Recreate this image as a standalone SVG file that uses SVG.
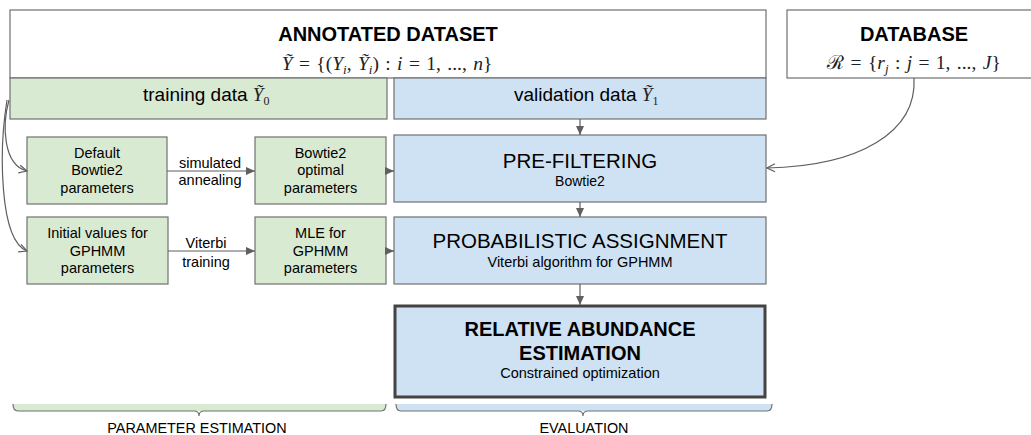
<svg xmlns="http://www.w3.org/2000/svg" width="1031" height="435" viewBox="0 0 1031 435">
<style>
.box{stroke:#707070;stroke-width:1.2}
.w{fill:#ffffff}
.g{fill:#d9ead3}
.b{fill:#cfe2f3}
.t{font-family:"Liberation Sans",Arial,sans-serif;fill:#000}
.m{font-family:"Liberation Serif","DejaVu Serif",serif;fill:#222}
.i{font-style:italic}
.c{text-anchor:middle}
.bold{font-weight:bold}
.con{fill:none;stroke:#5f5f5f;stroke-width:1.2}
</style>
<defs>
<marker id="tri" markerWidth="9" markerHeight="8" refX="9" refY="4" orient="auto" markerUnits="userSpaceOnUse">
<path d="M0,0 L9,4 L0,8 z" fill="#5f5f5f"/>
</marker>
<marker id="open" markerWidth="10" markerHeight="10" refX="9" refY="5" orient="auto" markerUnits="userSpaceOnUse">
<path d="M1,1 L9,5 L1,9" fill="none" stroke="#5f5f5f" stroke-width="1.2"/>
</marker>
</defs>
<rect width="1031" height="435" fill="#ffffff"/>

<g id="annotated">
<rect class="box w" x="10" y="10" width="756" height="68"/>
<text class="t bold c" x="388" y="41" font-size="20">ANNOTATED DATASET</text>
<text class="m c" x="387" y="70" font-size="19.5" word-spacing="1.5"><tspan class="i">Ỹ</tspan> = {(<tspan class="i">Y</tspan><tspan class="i" font-size="13" dy="4">i</tspan><tspan dy="-4">, </tspan><tspan class="i">Ỹ</tspan><tspan class="i" font-size="13" dy="4">i</tspan><tspan dy="-4">) : </tspan><tspan class="i">i</tspan> = 1, ..., <tspan class="i">n</tspan>}</text>
</g>

<g id="database">
<rect class="box w" x="787" y="10" width="260" height="68"/>
<text class="t bold c" x="914" y="41" font-size="20">DATABASE</text>
<text class="m c" x="914" y="69" font-size="19.5" word-spacing="1.5">ℛ = {<tspan class="i">r</tspan><tspan class="i" font-size="13" dy="4">j</tspan><tspan dy="-4"> : </tspan><tspan class="i">j</tspan> = 1, ..., <tspan class="i">J</tspan>}</text>
</g>

<g id="training">
<rect class="box g" x="10" y="78" width="377" height="41"/>
<text class="t" x="143" y="101" font-size="19">training data <tspan class="m i" font-size="19">Ỹ</tspan><tspan class="m" font-size="12" dy="4">0</tspan></text>
</g>

<g id="validation">
<rect class="box b" x="394" y="78" width="372" height="41"/>
<text class="t" x="514" y="101" font-size="19">validation data  <tspan class="m i" font-size="19">Ỹ</tspan><tspan class="m" font-size="12" dy="4">1</tspan></text>
</g>

<g id="default">
<rect class="box g" x="27" y="137" width="140" height="67"/>
<text class="t c" x="97" y="157.5" font-size="14.5">Default</text>
<text class="t c" x="97" y="175" font-size="14.5">Bowtie2</text>
<text class="t c" x="97" y="192.5" font-size="14.5">parameters</text>
</g>

<g id="optimal">
<rect class="box g" x="255" y="137" width="131" height="67"/>
<text class="t c" x="320.5" y="157.5" font-size="14.5">Bowtie2</text>
<text class="t c" x="320.5" y="175" font-size="14.5">optimal</text>
<text class="t c" x="320.5" y="192.5" font-size="14.5">parameters</text>
</g>

<g id="initial">
<rect class="box g" x="27" y="217" width="141" height="67"/>
<text class="t c" x="97.5" y="238" font-size="14.5">Initial values for</text>
<text class="t c" x="97.5" y="255.5" font-size="14.5">GPHMM</text>
<text class="t c" x="97.5" y="273" font-size="14.5">parameters</text>
</g>

<g id="mle">
<rect class="box g" x="255" y="217" width="131" height="67"/>
<text class="t c" x="320.5" y="238" font-size="14.5">MLE for</text>
<text class="t c" x="320.5" y="255.5" font-size="14.5">GPHMM</text>
<text class="t c" x="320.5" y="273" font-size="14.5">parameters</text>
</g>

<g id="prefiltering">
<rect class="box b" x="394" y="135" width="372" height="67"/>
<text class="t c" x="580" y="168" font-size="20.5">PRE-FILTERING</text>
<text class="t c" x="580" y="186" font-size="14">Bowtie2</text>
</g>

<g id="probabilistic">
<rect class="box b" x="394" y="217" width="372" height="67"/>
<text class="t c" x="580" y="248" font-size="20.5">PROBABILISTIC ASSIGNMENT</text>
<text class="t c" x="580" y="267" font-size="14.5">Viterbi algorithm for GPHMM</text>
</g>

<g id="relative">
<rect x="395" y="306" width="370" height="91" fill="#cfe2f3" stroke="#434343" stroke-width="3"/>
<text class="t bold c" x="580" y="336" font-size="20">RELATIVE ABUNDANCE</text>
<text class="t bold c" x="580" y="360" font-size="20">ESTIMATION</text>
<text class="t c" x="580" y="378" font-size="14.5">Constrained optimization</text>
</g>

<g id="param-brace">
<path d="M13,404 Q13,411 18,411 L381,411 Q386,411 386,404 Z" fill="#d9ead3"/>
<path d="M13,404 Q13,411 18,411 L194,411 Q199,411 199,416 Q199,411 204,411 L381,411 Q386,411 386,404" fill="none" stroke="#707070" stroke-width="1.2"/>
<text class="t c" x="197" y="433" font-size="14.4">PARAMETER ESTIMATION</text>
</g>

<g id="eval-brace">
<path d="M396,404 Q396,411 401,411 L767,411 Q772,411 772,404 Z" fill="#cfe2f3"/>
<path d="M396,404 Q396,411 401,411 L578,411 Q583,411 583,416 Q583,411 588,411 L767,411 Q772,411 772,404" fill="none" stroke="#707070" stroke-width="1.2"/>
<text class="t c" x="584" y="433" font-size="14.4">EVALUATION</text>
</g>

<g id="connectors">
<line class="con" x1="167" y1="171" x2="255" y2="171" marker-end="url(#tri)"/>
<text class="t c" x="210" y="167.5" font-size="14.5">simulated</text>
<text class="t c" x="210" y="185" font-size="14.5">annealing</text>
<line class="con" x1="168" y1="251" x2="255" y2="251" marker-end="url(#tri)"/>
<text class="t c" x="206" y="248" font-size="14.5">Viterbi</text>
<text class="t c" x="206" y="266.5" font-size="14.5">training</text>
<line class="con" x1="386" y1="171" x2="394" y2="171" marker-end="url(#tri)"/>
<line class="con" x1="386" y1="251" x2="394" y2="251" marker-end="url(#tri)"/>
<line class="con" x1="580" y1="119" x2="580" y2="135" marker-end="url(#tri)"/>
<line class="con" x1="580" y1="202" x2="580" y2="217" marker-end="url(#tri)"/>
<line class="con" x1="580" y1="284" x2="580" y2="305" marker-end="url(#tri)"/>
<path class="con" d="M914,78 C917,132 860,166 767,168" marker-end="url(#open)"/>
<path class="con" d="M9,100 C2,125 3,165 27,171" marker-end="url(#open)"/>
<path class="con" d="M7,100 C-1,150 -1,240 27,251" marker-end="url(#open)"/>
</g>
</svg>
